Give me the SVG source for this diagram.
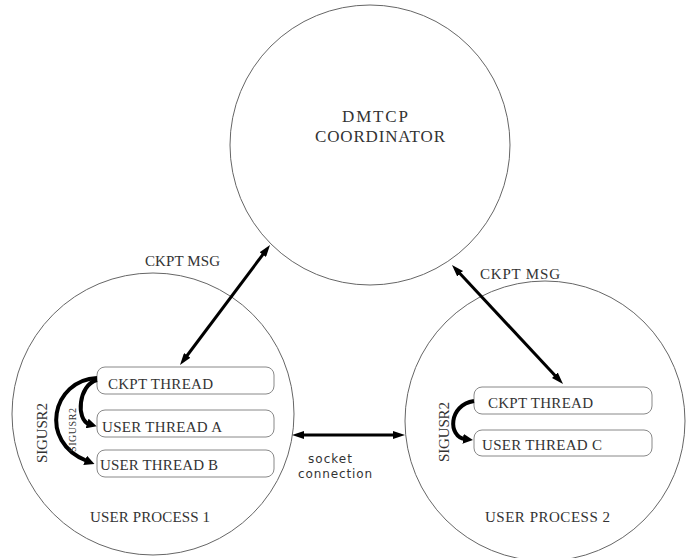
<svg xmlns="http://www.w3.org/2000/svg" width="689" height="558" viewBox="0 0 689 558">
<style>
.proc{fill:none;stroke:#666;stroke-width:1}
.box{fill:#fff;stroke:#888;stroke-width:1}
.t{font-family:"Liberation Serif",serif;fill:#333;font-size:15px}
.big{font-size:17px}
.sm{font-size:10px}
.s{font-family:"DejaVu Sans","Liberation Sans",sans-serif;fill:#333;font-size:12px}
.c{fill:none;stroke:#000;stroke-width:3}
.cv{fill:none;stroke:#000;stroke-width:4}
</style>
<defs>
<marker id="ah" viewBox="0 0 12 8" refX="2" refY="4" markerWidth="12" markerHeight="8" markerUnits="userSpaceOnUse" orient="auto-start-reverse">
<path d="M0,0 L12,4 L0,8 z" fill="#000"/>
</marker>
<marker id="ch" viewBox="0 0 10 10" refX="2" refY="5" markerWidth="10" markerHeight="10" markerUnits="userSpaceOnUse" orient="auto">
<path d="M0,0 L10,5 L0,10 z" fill="#000"/>
</marker>
</defs>
<rect width="689" height="558" fill="#fff"/>
<g id="coordinator">
<circle class="proc" cx="370" cy="145" r="140"/>
<text class="t big" x="375" y="122" text-anchor="middle" textLength="66" lengthAdjust="spacing">DMTCP</text>
<text class="t big" x="380" y="142" text-anchor="middle" textLength="130" lengthAdjust="spacing">COORDINATOR</text>
</g>
<g id="process1">
<circle class="proc" cx="153" cy="414" r="141"/>
<text class="t" x="90" y="522" textLength="120" lengthAdjust="spacing">USER PROCESS 1</text>
</g>
<g id="process2">
<circle class="proc" cx="545" cy="421" r="140"/>
<text class="t" x="485" y="522" textLength="125" lengthAdjust="spacing">USER PROCESS 2</text>
</g>
<g id="ckpt1">
<rect class="box" x="97" y="367" width="177" height="27" rx="8"/>
<text class="t" x="108" y="389" textLength="105" lengthAdjust="spacing">CKPT THREAD</text>
</g>
<g id="userA">
<rect class="box" x="97" y="410" width="177" height="27" rx="8"/>
<text class="t" x="102" y="432" textLength="120" lengthAdjust="spacing">USER THREAD A</text>
</g>
<g id="userB">
<rect class="box" x="97" y="450" width="177" height="27" rx="8"/>
<text class="t" x="100" y="470" textLength="118" lengthAdjust="spacing">USER THREAD B</text>
</g>
<g id="ckpt2">
<rect class="box" x="474" y="387" width="178" height="27" rx="8"/>
<text class="t" x="488" y="408" textLength="105" lengthAdjust="spacing">CKPT THREAD</text>
</g>
<g id="userC">
<rect class="box" x="474" y="430" width="178" height="26" rx="8"/>
<text class="t" x="482" y="450" textLength="120" lengthAdjust="spacing">USER THREAD C</text>
</g>
<g id="connectors">
<path class="c" d="M186,357 L264,253" marker-start="url(#ah)" marker-end="url(#ah)"/>
<path class="c" d="M458.8,272.3 L556.2,376.7" marker-start="url(#ah)" marker-end="url(#ah)"/>
<path class="c" d="M302,435 L395,435" marker-start="url(#ah)" marker-end="url(#ah)"/>
<path class="cv" d="M97,378 C52,380 38,442 87,461" marker-end="url(#ch)"/>
<path class="cv" d="M97,380 C78,385 76,420 89,424" marker-end="url(#ch)"/>
<path class="cv" d="M474,401 C448,405 448,437 465,439" marker-end="url(#ch)"/>
<text class="t" x="145" y="266" textLength="75" lengthAdjust="spacing">CKPT MSG</text>
<text class="t" x="480" y="279" textLength="80" lengthAdjust="spacing">CKPT MSG</text>
<text class="t" transform="translate(47,433) rotate(-90)" text-anchor="middle" textLength="60" lengthAdjust="spacing">SIGUSR2</text>
<text class="t sm" transform="translate(76,430) rotate(-90)" text-anchor="middle" textLength="44" lengthAdjust="spacing">SIGUSR2</text>
<text class="t" transform="translate(449,432) rotate(-90)" text-anchor="middle" textLength="60" lengthAdjust="spacing">SIGUSR2</text>
<text class="s" x="308" y="463" textLength="44" lengthAdjust="spacing">socket</text>
<text class="s" x="298" y="478" textLength="74" lengthAdjust="spacing">connection</text>
</g>
</svg>
